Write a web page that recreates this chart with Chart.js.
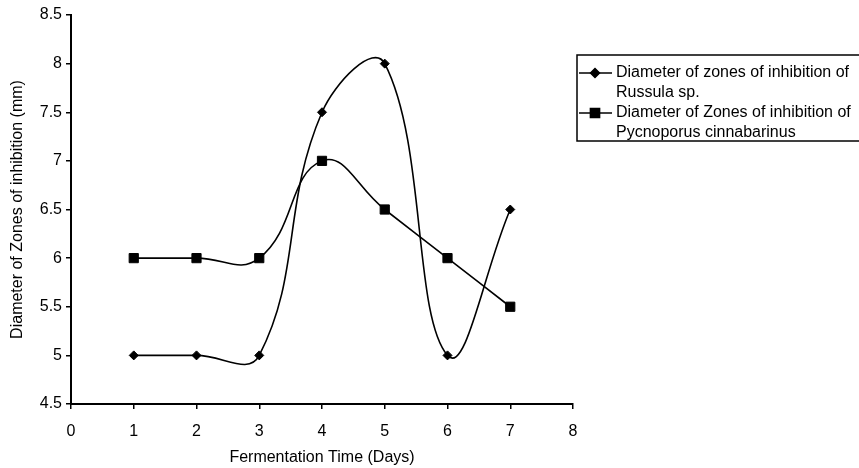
<!DOCTYPE html>
<html>
<head>
<meta charset="utf-8">
<script src="https://cdn.jsdelivr.net/npm/chart.js@4"></script>
<style>
  html, body { margin: 0; padding: 0; background: #fff; }
  #wrap { width: 859px; height: 468px; position: relative; }
</style>
</head>
<body>
<div id="wrap"><canvas id="c" width="859" height="468"></canvas></div>
<script>
const days = [1, 2, 3, 4, 5, 6, 7];
const russula = [5, 5, 5, 7.5, 8, 5, 6.5];
const pycnoporus = [6, 6, 6, 7, 6.5, 6, 5.5];
const russulaLabel = ['Diameter of zones of inhibition of', 'Russula sp.'];
const pycnoLabel = ['Diameter of Zones of inhibition of', 'Pycnoporus cinnabarinus'];
const xTitle = 'Fermentation Time (Days)';
const yTitle = 'Diameter of Zones of inhibition (mm)';

const FONT = 'Liberation Sans, Arial, sans-serif';
const FS = 16;

const legendPlugin = {
  id: 'boxLegend',
  afterDraw(chart) {
    const ctx = chart.ctx;
    ctx.save();
    const left = 577, top = 55, bottom = 141;
    ctx.strokeStyle = '#000';
    ctx.lineWidth = 1.5;
    ctx.strokeRect(left, top, 859 - left + 5, bottom - top);
    const entries = [
      { lines: russulaLabel, style: 'rectRot', r: 4.5, y: 73 },
      { lines: pycnoLabel, style: 'rect', r: 6.5, y: 113 }
    ];
    ctx.font = FS + 'px ' + FONT;
    ctx.fillStyle = '#000';
    ctx.textBaseline = 'middle';
    ctx.textAlign = 'left';
    entries.forEach(e => {
      ctx.beginPath();
      ctx.lineWidth = 1.5;
      ctx.moveTo(579, e.y);
      ctx.lineTo(612, e.y);
      ctx.stroke();
      Chart.helpers.drawPoint(ctx, { pointStyle: e.style, radius: e.r, borderWidth: 1 }, 595, e.y);
      ctx.fill();
      e.lines.forEach((t, i) => ctx.fillText(t, 616, e.y + i * 19.5));
    });
    ctx.restore();
  }
};

new Chart(document.getElementById('c'), {
  type: 'line',
  data: {
    labels: days,
    datasets: [
      {
        label: russulaLabel.join(' '),
        data: days.map((d, i) => ({ x: d, y: russula[i] })),
        borderColor: '#000',
        backgroundColor: '#000',
        borderWidth: 1.6,
        pointStyle: 'rectRot',
        pointRadius: 4.5,
        pointBorderWidth: 1,
        tension: 0.42,
        fill: false
      },
      {
        label: pycnoLabel.join(' '),
        data: days.map((d, i) => ({ x: d, y: pycnoporus[i] })),
        borderColor: '#000',
        backgroundColor: '#000',
        borderWidth: 1.6,
        pointStyle: 'rect',
        pointRadius: 6.5,
        pointBorderWidth: 1,
        tension: 0.45,
        fill: false
      }
    ]
  },
  options: {
    responsive: false,
    animation: false,
    devicePixelRatio: 1,
    layout: { padding: { top: 15, right: 286, left: 0, bottom: 0 } },
    plugins: {
      legend: { display: false },
      tooltip: { enabled: false }
    },
    scales: {
      x: {
        type: 'linear',
        min: 0, max: 8,
        ticks: { stepSize: 1, color: '#000', padding: 13, font: { family: FONT, size: FS }, callback: v => String(v) },
        grid: { drawOnChartArea: false, drawTicks: true, tickLength: 5, color: '#000', lineWidth: 1.5 },
        border: { color: '#000', width: 2 },
        title: { display: true, text: xTitle, color: '#000', font: { family: FONT, size: FS }, padding: { top: 0, bottom: 1 } },
        afterFit(scale) { scale.height = 64; }
      },
      y: {
        type: 'linear',
        min: 4.5, max: 8.5,
        ticks: { stepSize: 0.5, color: '#000', padding: 4, font: { family: FONT, size: FS }, callback: v => String(v) },
        grid: { drawOnChartArea: false, drawTicks: true, tickLength: 5, color: '#000', lineWidth: 1.5 },
        border: { color: '#000', width: 2 },
        title: { display: true, text: yTitle, color: '#000', font: { family: FONT, size: FS }, padding: { top: 8, bottom: 0 } },
        afterFit(scale) { scale.width = 71; }
      }
    }
  },
  plugins: [legendPlugin]
});
</script>
</body>
</html>
